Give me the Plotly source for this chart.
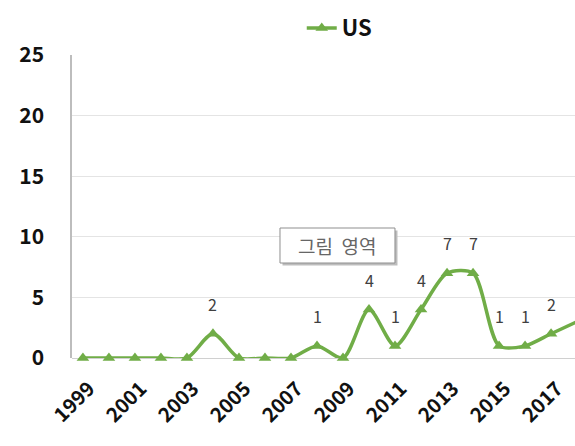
import plotly.graph_objects as go

# Annual counts for the US series
years = [1999, 2000, 2001, 2002, 2003, 2004, 2005, 2006, 2007, 2008,
         2009, 2010, 2011, 2012, 2013, 2014, 2015, 2016, 2017, 2018]
us_counts = [0, 0, 0, 0, 0, 2, 0, 0, 0, 1,
             0, 4, 1, 4, 7, 7, 1, 1, 2, 3]
tick_years = years[::2]
y_ticks = [0, 5, 10, 15, 20, 25]

GREEN = "#70AD47"
FONT = "Noto Sans CJK KR"

fig = go.Figure()
fig.add_trace(go.Scatter(
    x=years, y=us_counts, name="US",
    mode="lines+markers",
    line=dict(color=GREEN, width=3.5, shape="spline", smoothing=0.8),
    marker=dict(symbol="triangle-up", size=11, color=GREEN),
    cliponaxis=False,
))

# Value labels above the non-zero points
annotations = []
for yr, v in zip(years, us_counts):
    if v > 0:
        annotations.append(dict(
            x=yr, y=v, xref="x", yref="y", text=str(v), showarrow=False,
            yshift=30, yanchor="middle",
            font=dict(family=FONT, size=16, color="#404040"),
        ))

# Plot-area tooltip: shadow, white box and its caption
box = dict(x0=0.4135, x1=0.6421, y0=0.3135, y1=0.429)
shapes = [
    dict(type="rect", xref="paper", yref="paper",
         x0=box["x0"] + 0.005, x1=box["x1"] + 0.005,
         y0=box["y0"] - 0.008, y1=box["y1"] - 0.008,
         fillcolor="#bdbdbd", line=dict(width=0), layer="above"),
    dict(type="rect", xref="paper", yref="paper", **box,
         fillcolor="white", line=dict(color="#8f8f8f", width=1), layer="above"),
]
annotations.append(dict(
    x=(box["x0"] + box["x1"]) / 2, y=(box["y0"] + box["y1"]) / 2,
    xref="paper", yref="paper", text="그림  영역", showarrow=False,
    font=dict(family=FONT, size=19, color="#666666"),
))

fig.update_layout(
    width=575, height=446,
    margin=dict(l=72, r=0, t=55, b=88, autoexpand=False),
    paper_bgcolor="white", plot_bgcolor="white",
    font=dict(family=FONT, color="#222"),
    showlegend=True,
    legend=dict(
        orientation="h", xref="container", yref="container",
        x=0.59, y=0.937, xanchor="center", yanchor="middle",
        font=dict(family=FONT, size=22, color="#111", weight="bold"),
        itemwidth=30, bgcolor="rgba(0,0,0,0)",
    ),
    shapes=shapes,
    annotations=annotations,
    xaxis=dict(
        range=[1998.58, 2017.92], automargin=False,
        tickmode="array", tickvals=tick_years,
        ticktext=[str(t) for t in tick_years],
        tickangle=-45,
        tickfont=dict(family=FONT, size=20, color="#111", weight="bold"),
        showgrid=False, zeroline=False, showline=False, ticks="",
        ticklabelstandoff=14, ticklabelshift=6,
    ),
    yaxis=dict(
        range=[0, 25], automargin=False,
        tickmode="array", tickvals=y_ticks,
        tickfont=dict(family=FONT, size=21, color="#111", weight="bold"),
        showgrid=True, gridcolor="#e4e4e4", gridwidth=1,
        zeroline=True, zerolinecolor="#d0d0d0", zerolinewidth=1,
        showline=True, linecolor="#bdbdbd", linewidth=1.5,
        ticks="", ticklabelstandoff=22,
    ),
)

fig.write_html("out.html")
